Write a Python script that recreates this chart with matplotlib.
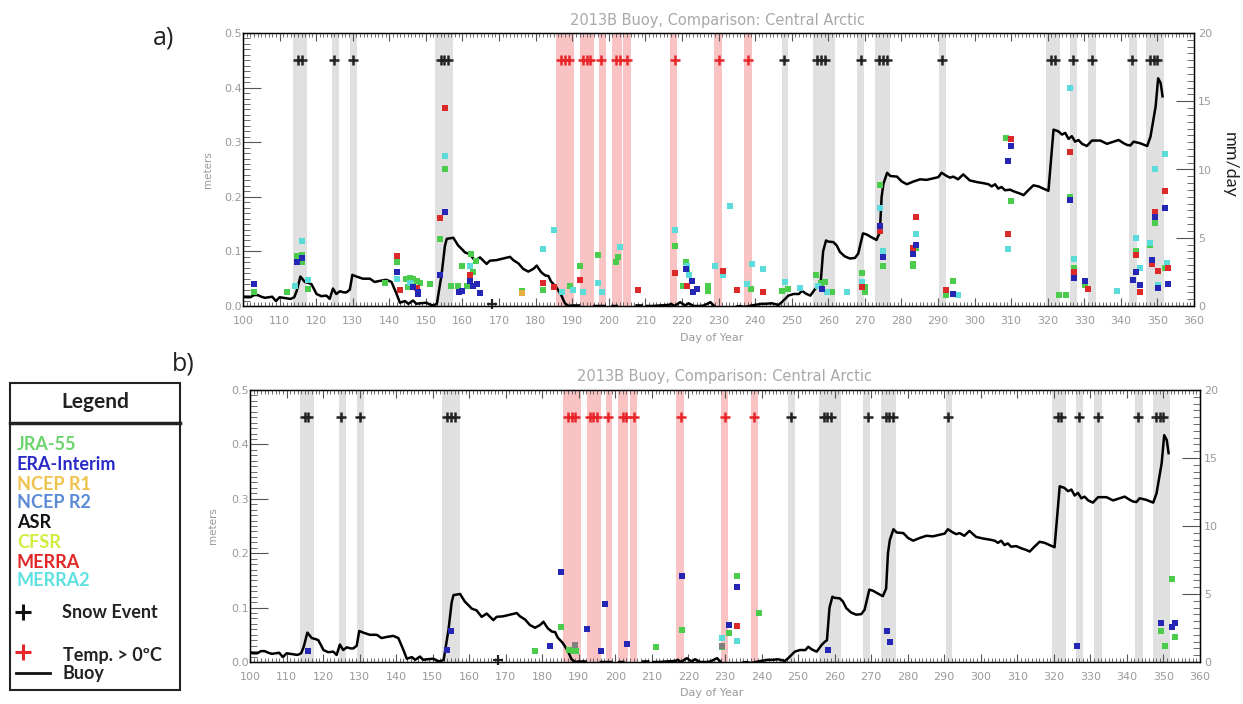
import matplotlib
matplotlib.use("Agg")
import matplotlib.pyplot as plt
import numpy as np
from matplotlib.ticker import MultipleLocator, FormatStrFormatter
from matplotlib.patches import Rectangle
from matplotlib.lines import Line2D

nan = np.nan

# buoy snow depth (meters), nan = no data
buoy_day = [100, 101, 102, 103, 104, 105, 106, 107, 108, 109, 110, 111, 112, 113, 114,
            114.7, 115.7, 116.9, 118, 118.7, 119.5, 120.1, 121.4, 122.8, 123.7, 124.6, 125.5,
            126.5, 127.5, 128.3, 129.2, 129.9, 131, 132.8, 134.7, 136, 137.4, 139.2, 140.6,
            142, 142.9, 144.3, 145.2, 146.5, 147.4, 148.4, 150.2, 151, 152, 153, 154.3, 155.2,
            155.7, 157.5, 158.8, 160, 160.7, 162, 163.4, 164.8, 166.6, 167.5, 169.3, 171.2,
            173, 173.9, 175.3, 176.6, 178, 179.4, 180.3, 181.5, 182.6, 183.5, 184.2, 185.6,
            187, 188, 189, 190, 191.8, 192,
            196, 197, 198.9, 199,
            201, 202.2, 202.5,
            207.6, 209, 209.5,
            210.4, 212, 214, 216.5, 217, 218, 219.5, 220.9, 221.8, 223.2, 225, 226, 227.8,
            228.7, 229,
            235, 236, 237, 238.5, 239.9, 241.7, 243, 244.5, 246.4, 247.3, 249.1, 250.5, 252,
            252.8, 253.8, 255.1, 256.4, 257.3, 257.9, 258.6, 259.4, 260, 261.4, 262.3, 263.2,
            264.5, 265.9, 267.3, 268.2, 269.5, 270.5, 271.8, 273.2, 274.1, 274.6, 275.1, 276.1,
            277, 278.8, 280.1, 281.5, 283.3, 285.1, 286.9, 288.8, 290.1, 291, 292.4, 293.3,
            294.2, 295.5, 296.9, 298.7, 300.6, 302.4, 303.8, 304.7, 305.6, 306.5, 307.4, 308.3,
            309.7, 311.1, 312.4, 313.4, 314.7, 316.1, 317.5, 318.8, 320.2, 321.6, 322.9, 323.9,
            324.8, 325.7, 326.6, 327.5, 328.4, 329.4, 330.7, 332.1, 334.4, 336.2, 338, 339.4,
            340.8, 341.7, 342.6, 343.5, 345.3, 347.2, 348.1, 349.5, 350.2, 350.9, 351.4]
buoy_m = [0.017, 0.016, 0.016, 0.020, 0.020, 0.017, 0.015, 0.016, 0.017, 0.009, 0.016, 0.015, 0.014, 0.013, 0.016,
          0.028, 0.054, 0.044, 0.042, 0.040, 0.030, 0.022, 0.018, 0.019, 0.013, 0.032, 0.022,
          0.027, 0.025, 0.025, 0.030, 0.057, 0.054, 0.050, 0.050, 0.044, 0.046, 0.048, 0.044,
          0.022, 0.006, 0.009, 0.004, 0.010, 0.004, 0.005, 0.006, 0.003, 0.001, 0.004, 0.058, 0.110,
          0.123, 0.125, 0.111, 0.103, 0.098, 0.095, 0.083, 0.089, 0.077, 0.083, 0.084, 0.087,
          0.090, 0.084, 0.078, 0.068, 0.063, 0.068, 0.074, 0.062, 0.056, 0.055, 0.045, 0.035,
          0.020, 0.005, 0.000, 0.001, 0.001, nan,
          0.000, 0.000, 0.000, nan,
          0.000, 0.000, nan,
          0.001, 0.001, nan,
          0.000, 0.000, 0.001, 0.002, 0.004, 0.000, 0.007, 0.001, 0.005, 0.000, 0.000, 0.001, 0.007,
          0.001, nan,
          -0.001, 0.000, -0.002, 0.000, 0.002, 0.004, 0.004, 0.005, 0.002, 0.007, 0.019, 0.022, 0.022,
          0.028, 0.023, 0.019, 0.031, 0.037, 0.040, 0.100, 0.120, 0.118, 0.117, 0.111, 0.099,
          0.091, 0.087, 0.088, 0.096, 0.133, 0.131, 0.126, 0.121, 0.135, 0.200, 0.224, 0.244,
          0.238, 0.237, 0.228, 0.223, 0.228, 0.232, 0.231, 0.234, 0.236, 0.244, 0.238, 0.235,
          0.237, 0.232, 0.241, 0.230, 0.227, 0.225, 0.223, 0.219, 0.223, 0.215, 0.218, 0.212,
          0.213, 0.209, 0.206, 0.203, 0.212, 0.221, 0.219, 0.215, 0.211, 0.323, 0.320, 0.314,
          0.317, 0.306, 0.311, 0.301, 0.304, 0.297, 0.293, 0.303, 0.303, 0.297, 0.301, 0.304,
          0.298, 0.295, 0.294, 0.301, 0.298, 0.293, 0.310, 0.365, 0.417, 0.408, 0.384]

snow_days = [115, 116, 125, 130, 154, 155, 156, 248, 257, 258, 259, 269, 274, 275, 276,
             291, 321, 322, 327, 332, 343, 348, 349, 350]
warm_days = [187, 188, 189, 193, 194, 195, 198, 202, 203, 205, 218, 230, 238]
snow_bands = [(113.8, 117.6), (124.4, 126.2), (129.3, 131.1), (152.5, 157.5), (247.3, 249.1),
              (255.7, 261.8), (267.9, 269.8), (272.8, 276.9), (290.4, 292.2), (319.5, 323.4),
              (326.1, 328.1), (331.1, 333.2), (342.3, 344.3), (347.0, 351.8)]
warm_bands = [(185.6, 190.6), (192.1, 196.0), (197.4, 199.2), (200.8, 203.5), (204.0, 206.0),
              (216.7, 218.7), (228.8, 230.9), (237.0, 239.1)]
lone_snow_day = 168

# reanalysis precipitation (mm/day), panel a
a_jra_day = [103, 112.1, 114.9, 116, 116, 117.9, 138.8, 142, 144.6, 145.6, 146.6, 147.5, 148.4, 145.2,
             146.6, 151.1, 153.9, 155.2, 156.9, 158.7, 160, 162.2, 161.2, 163, 163.8, 176.2, 182.1,
             189.4, 192.1, 197.1, 202.0, 202.6, 218.1, 221, 221.5, 220.4, 227.2, 227.2, 238.8, 247.3,
             249.1, 256.7, 257.9, 259.1, 260.9, 269.1, 270, 270, 274.1, 275.1, 283.2, 283.2, 284.1,
             292.1, 294.1, 308.7, 310.1, 326.0, 323.1, 324.9, 327.1, 330.1, 344.1, 348.1, 349.3, 352, 352.6]
a_jra_val = [1.0, 1.0, 3.66, 3.7, 3.2, 1.27, 1.66, 3.2, 1.95, 2.07, 2.0, 1.8, 1.7, 1.4,
             1.46, 1.6, 4.9, 10.0, 1.5, 1.5, 2.9, 3.8, 1.5, 2.5, 3.3, 1.1, 1.2,
             1.5, 2.9, 3.7, 3.2, 3.6, 4.4, 3.2, 2.7, 1.46, 1.5, 1.1, 1.27, 1.1,
             1.27, 2.24, 1.7, 1.76, 1.0, 2.44, 1.4, 1.0, 8.9, 2.9, 2.9, 3.1, 4.25,
             0.8, 1.8, 12.3, 7.7, 8.0, 0.84, 0.84, 2.77, 1.53, 4.06, 4.5, 6.1, 2.77, 2.9]
a_era_day = [103, 114.9, 116, 142, 146.6, 147.9, 147.9, 153.9, 155.2, 159, 159.8, 162.1, 163, 164,
             164.9, 221.2, 222.7, 223.1, 224, 258.2, 274.1, 275.1, 283.2, 284.1, 294.1, 310.1, 309.2,
             326.0, 327.1, 330.1, 343.2, 344.1, 345.2, 348.4, 349.3, 350.2, 352.0, 352.9]
a_era_val = [1.6, 3.2, 3.5, 2.5, 1.4, 1.0, 0.85, 2.24, 6.9, 1.0, 1.1, 1.83, 1.5, 1.6,
             0.98, 2.7, 1.83, 1.0, 1.27, 1.27, 5.85, 3.6, 3.8, 4.45, 0.9, 11.7, 10.6,
             7.8, 2.08, 1.83, 1.9, 2.47, 1.53, 3.4, 6.5, 1.34, 7.2, 1.58]
a_merra_day = [142, 143, 147.5, 153.9, 155.2, 162.1, 182.1, 185.0, 192.1, 208.1, 218.1, 221.3, 231.1,
               235.1, 242.1, 269.1, 274.1, 283.2, 284.1, 292.1, 310.1, 309.2, 326.0, 327.1, 331,
               344.1, 345.2, 348.4, 349.3, 350.2, 352.0, 352.9]
a_merra_val = [3.66, 1.2, 1.3, 6.46, 14.5, 2.24, 1.7, 1.4, 1.9, 1.2, 2.4, 1.5, 2.56,
               1.2, 1.0, 1.4, 5.5, 4.25, 6.5, 1.16, 12.2, 5.3, 11.3, 2.47, 1.24,
               3.7, 1.0, 3.1, 6.86, 2.57, 8.4, 2.77]
a_merra2_day = [114.2, 116, 117.9, 142, 145.7, 155.2, 162.1, 182.1, 185.0, 187.1, 190.3, 193.0, 197.1,
                198.1, 203.1, 218.1, 221.3, 221.8, 229.0, 231.1, 233.1, 237.9, 239.1, 242.1, 248.2,
                252.3, 257.3, 259.7, 265.0, 269.1, 274.1, 275.1, 284.1, 295.5, 309.2, 326.2, 327.1,
                339, 344.1, 345.2, 348.1, 349.3, 350.2, 352.0, 352.6]
a_merra2_val = [1.5, 4.75, 1.9, 2.0, 1.7, 11.0, 2.9, 4.15, 5.6, 1.0, 1.2, 1.0, 1.66,
                1.0, 4.3, 5.6, 2.9, 2.3, 2.9, 2.24, 7.3, 1.6, 3.1, 2.7, 1.76,
                1.34, 1.5, 1.0, 1.0, 1.76, 7.2, 4.0, 5.3, 0.8, 4.2, 16.0, 3.46,
                1.09, 5.0, 2.82, 4.6, 10.0, 1.53, 11.1, 3.14]
a_ncep1_day = [176.2]
a_ncep1_val = [0.93]

# panel b
b_jra_day = [178, 185.1, 187.2, 188.5, 189.3, 211.2, 218.2, 229.1, 231, 233.2, 239.2, 349.2, 350.4, 352.2, 353.1]
b_jra_val = [0.8, 2.6, 0.88, 0.83, 0.83, 1.08, 2.35, 1.08, 2.16, 6.3, 3.58, 2.3, 1.18, 6.07, 1.87]
b_era_day = [116, 153.8, 154.9, 182, 185.1, 192.2, 196, 197.2, 203.1, 218.2, 231, 233.2, 258.1,
             274.2, 275.1, 326.2, 349.2, 352.2, 353.1]
b_era_val = [0.8, 0.9, 2.3, 1.17, 6.64, 2.4, 0.83, 4.26, 1.3, 6.3, 2.72, 5.5, 0.88,
             2.27, 1.5, 1.18, 2.9, 2.54, 2.9]
b_merra_day = [233.2]
b_merra_val = [2.65]
b_merra2_day = [229.1, 233.2]
b_merra2_val = [1.74, 1.57]
b_asr_day = [189, 229.1]
b_asr_val = [1.25, 1.2]

legend_names = ['JRA-55', 'ERA-Interim', 'NCEP R1', 'NCEP R2', 'ASR', 'CFSR', 'MERRA', 'MERRA2']
legend_colors = ['#6cd46c', '#2a2ac8', '#f0c24c', '#5b8ad6', '#111111', '#d2ec3e', '#e02828', '#5fe0e0']

GRN = '#4ccc4c'
BLU = '#2626b4'
RED = '#dc2a2a'
CYN = '#5cdcd8'
GLD = '#e8b040'
ASRC = '#808080'
BAND_GRAY = '#e0e0e0'
BAND_PINK = '#f9c3c3'
PLUS_RED = '#e8262a'
TXT_GRAY = '#9a9a9a'

W, H = 1243, 704
fig = plt.figure(figsize=(W / 100, H / 100), dpi=100)
fig.patch.set_facecolor('white')


def panel(rect, points):
    ax = fig.add_axes(rect)
    for a, b in snow_bands:
        ax.axvspan(a, b, color=BAND_GRAY, lw=0, zorder=0)
    for a, b in warm_bands:
        ax.axvspan(a, b, color=BAND_PINK, lw=0, zorder=0)
    ax.plot(buoy_day, buoy_m, color='black', lw=1.8, zorder=3)
    ax.plot(snow_days, [0.45] * len(snow_days), ls='none', marker='+', ms=7.5, mew=1.8, color='#222222', zorder=4)
    ax.plot(warm_days, [0.45] * len(warm_days), ls='none', marker='+', ms=7.5, mew=1.8, color=PLUS_RED, zorder=4)
    ax.plot([lone_snow_day], [0.004], ls='none', marker='+', ms=7, mew=1.6, color='#222222', zorder=4, clip_on=False)

    ax.set_xlim(100, 360)
    ax.set_ylim(0, 0.5)
    ax.xaxis.set_major_locator(MultipleLocator(10))
    ax.xaxis.set_minor_locator(MultipleLocator(1))
    ax.yaxis.set_major_locator(MultipleLocator(0.1))
    ax.yaxis.set_minor_locator(MultipleLocator(0.01))
    ax.yaxis.set_major_formatter(FormatStrFormatter('%.1f'))
    ax.tick_params(axis='x', which='major', direction='in', length=6, width=0.8, color='#555555',
                   top=True, bottom=True, labelsize=8, labelcolor=TXT_GRAY, pad=7)
    ax.tick_params(axis='x', which='minor', direction='in', length=3, width=0.6, color='#555555',
                   top=True, bottom=True)
    ax.tick_params(axis='y', which='major', direction='in', length=13, width=0.8, color='#555555',
                   left=True, right=False, labelsize=8, labelcolor=TXT_GRAY, pad=1)
    ax.tick_params(axis='y', which='minor', direction='in', length=5, width=0.6, color='#555555',
                   left=True, right=False)
    for s in ax.spines.values():
        s.set_linewidth(1.0)

    ax2 = ax.twinx()
    ax2.set_ylim(0, 20)
    ax2.yaxis.set_major_locator(MultipleLocator(5))
    ax2.yaxis.set_minor_locator(MultipleLocator(0.5))
    ax2.tick_params(axis='y', which='major', direction='in', length=13, width=0.8, color='#555555',
                    labelsize=8, labelcolor=TXT_GRAY, pad=3)
    ax2.tick_params(axis='y', which='minor', direction='in', length=5, width=0.6, color='#555555')
    for d, v, c in points:
        ax2.scatter(d, v, marker='s', s=13, color=c, lw=0, zorder=5)
    return ax, ax2


pts_a = [(a_jra_day, a_jra_val, GRN), (a_ncep1_day, a_ncep1_val, GLD), (a_merra2_day, a_merra2_val, CYN),
         (a_merra_day, a_merra_val, RED), (a_era_day, a_era_val, BLU)]
pts_b = [(b_jra_day, b_jra_val, GRN), (b_asr_day, b_asr_val, ASRC), (b_merra2_day, b_merra2_val, CYN),
         (b_merra_day, b_merra_val, RED), (b_era_day, b_era_val, BLU)]

panel([243 / W, 1 - 306 / H, 951 / W, 273 / H], pts_a)
panel([250 / W, 1 - 662 / H, 950 / W, 272 / H], pts_b)

# overlay in pixel coordinates for labels and the legend box
ov = fig.add_axes([0, 0, 1, 1], zorder=10)
ov.set_xlim(0, W)
ov.set_ylim(H, 0)
ov.axis('off')

title = '2013B Buoy, Comparison: Central Arctic'
ov.text(718, 20, title, ha='center', va='center', fontsize=10.5, color='#a8a8a8')
ov.text(725, 377, title, ha='center', va='center', fontsize=10.5, color='#a8a8a8')
ov.text(712, 338, 'Day of Year', ha='center', va='center', fontsize=8, color=TXT_GRAY)
ov.text(712, 693, 'Day of Year', ha='center', va='center', fontsize=8, color=TXT_GRAY)
ov.text(208, 170, 'meters', ha='center', va='center', rotation=90, fontsize=7.5, color=TXT_GRAY)
ov.text(213, 526, 'meters', ha='center', va='center', rotation=90, fontsize=7.5, color=TXT_GRAY)
ov.text(1230, 165, 'mm/day', ha='center', va='center', rotation=270, fontsize=13, color='#222222',
        family='Lato')
ov.text(164, 38, 'a)', ha='center', va='center', fontsize=18, color='#222222', family='Open Sans')
ov.text(183, 364, 'b)', ha='center', va='center', fontsize=18, color='#222222', family='Open Sans')

# legend box
ov.add_patch(Rectangle((10, 383), 170, 307, fill=False, lw=1.5, ec='#222222'))
ov.plot([10, 180], [423, 423], color='#222222', lw=2.5)
lf = dict(family='Lato', fontweight='bold', va='center', ha='left')
ov.text(95, 402, 'Legend', ha='center', va='center', family='Lato', fontweight='bold', fontsize=15, color='#222222')
rows_y = [444, 464, 484, 503, 523, 542, 562, 581]
for name, col, y in zip(legend_names, legend_colors, rows_y):
    ov.text(17, y, name, fontsize=13, color=col, **lf)
ov.plot([23], [612], marker='+', ms=11, mew=2.2, color='#111111')
ov.text(62, 613, 'Snow Event', fontsize=13, color='#222222', **lf)
ov.plot([23], [652], marker='+', ms=11, mew=2.2, color=PLUS_RED)
ov.text(63, 655, 'Temp. > 0ºC', fontsize=13, color='#222222', **lf)
ov.add_line(Line2D([16, 50], [673, 673], color='#111111', lw=2))
ov.text(63, 674, 'Buoy', fontsize=13, color='#222222', **lf)

fig.savefig('out.png', dpi=100, facecolor='white')
